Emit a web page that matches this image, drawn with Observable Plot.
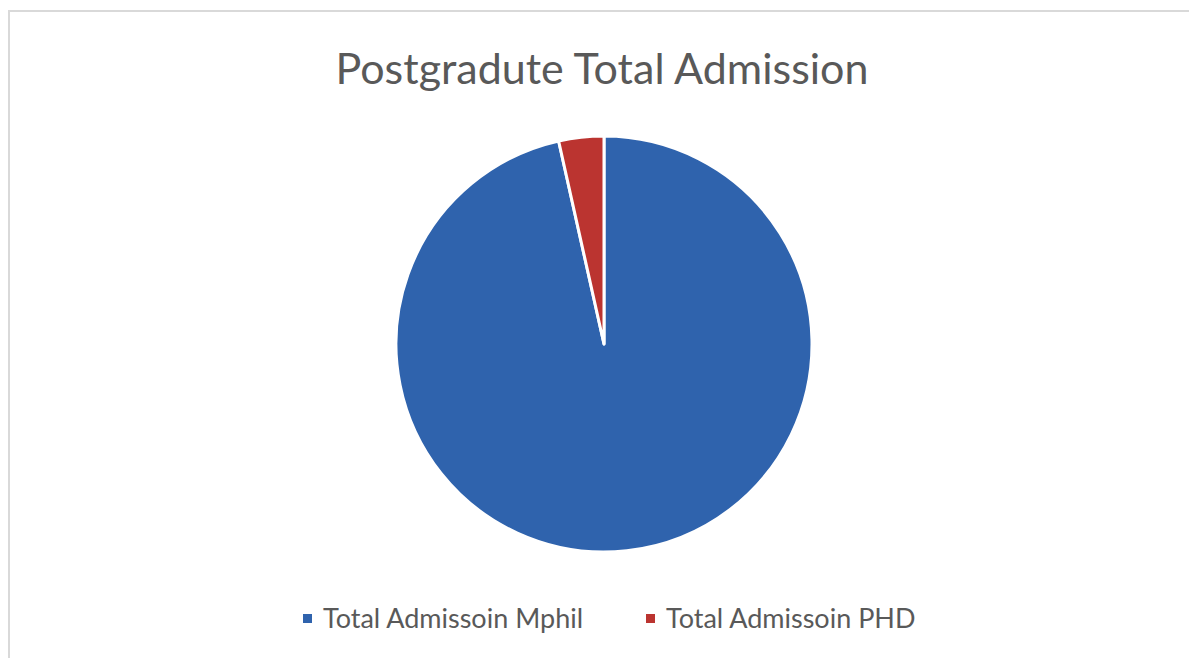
<!DOCTYPE html>
<html>
<head>
<meta charset="utf-8">
<script src="https://cdn.jsdelivr.net/npm/d3@7"></script>
<script src="https://cdn.jsdelivr.net/npm/@observablehq/plot@0.6"></script>
<style>
  html, body { margin: 0; padding: 0; background: #ffffff; }
  #wrap { position: relative; width: 1189px; height: 658px; overflow: hidden; background: #fff; }
  #frame { position: absolute; left: 8px; top: 10px; width: 1300px; height: 700px;
           border-top: 2px solid #d9d9d9; border-left: 2px solid #d9d9d9; }
  #title { position: absolute; left: 0; width: 1204px; top: 38px; text-align: center;
           font-family: Lato, "Open Sans", sans-serif; font-size: 43px; color: #595959; line-height: 60px; }
  #chart { position: absolute; left: 0; top: 126px; }
  #legend { position: absolute; left: 0; width: 1189px; top: 602px; height: 32px;
            font-family: Lato, "Open Sans", sans-serif; font-size: 27px; color: #595959; line-height: 32px; }
  .item { position: absolute; top: 0; display: flex; align-items: center; white-space: nowrap; }
  .sw { width: 9px; height: 9px; margin-right: 11px; flex: none; }
</style>
</head>
<body>
<div id="wrap">
  <div id="frame"></div>
  <div id="title">Postgradute Total Admission</div>
  <div id="chart"></div>
  <div id="legend"></div>
</div>
<script>
const titleText = "Postgradute Total Admission";
const categories = ["Total Admissoin Mphil", "Total Admissoin PHD"];
const values = [96.5, 3.5];
const colors = ["#2F63AD", "#BB3430"];

const data = categories.map((c, i) => ({category: c, value: values[i]}));

function pieMark(index, scales, vals, dimensions, context) {
  const cx = scales.x(0), cy = scales.y(0);
  const r = Math.abs(scales.x(1) - scales.x(0));
  const arcs = d3.pie().sort(null).value(d => d.value)(data);
  const arc = d3.arc().innerRadius(0).outerRadius(r);
  const g = d3.create("svg:g").attr("transform", `translate(${cx},${cy})`);
  g.selectAll("path").data(arcs).join("path")
    .attr("d", arc)
    .attr("fill", d => scales.color(d.data.category))
    .attr("stroke", "#ffffff")
    .attr("stroke-width", 3)
    .attr("stroke-linejoin", "round");
  return g.node();
}

const W = 1189, H = 436, CX = 604, CY = 218, R = 208;
const chart = Plot.plot({
  width: W,
  height: H,
  margin: 0,
  x: {domain: [-1, 1], range: [CX - R, CX + R], axis: null},
  y: {domain: [-1, 1], range: [CY + R, CY - R], axis: null},
  color: {domain: categories, range: colors},
  marks: [
    Plot.dot(data, {x: () => 0, y: () => 0, fill: "category", r: 0}),
    pieMark
  ]
});
document.getElementById("chart").appendChild(chart);

const legend = document.getElementById("legend");
const legendLefts = [303, 646];
categories.forEach((c, i) => {
  const item = document.createElement("div");
  item.className = "item";
  item.style.left = legendLefts[i] + "px";
  const sw = document.createElement("span");
  sw.className = "sw";
  sw.style.background = colors[i];
  const t = document.createElement("span");
  t.textContent = c;
  item.appendChild(sw);
  item.appendChild(t);
  legend.appendChild(item);
});
</script>
</body>
</html>
